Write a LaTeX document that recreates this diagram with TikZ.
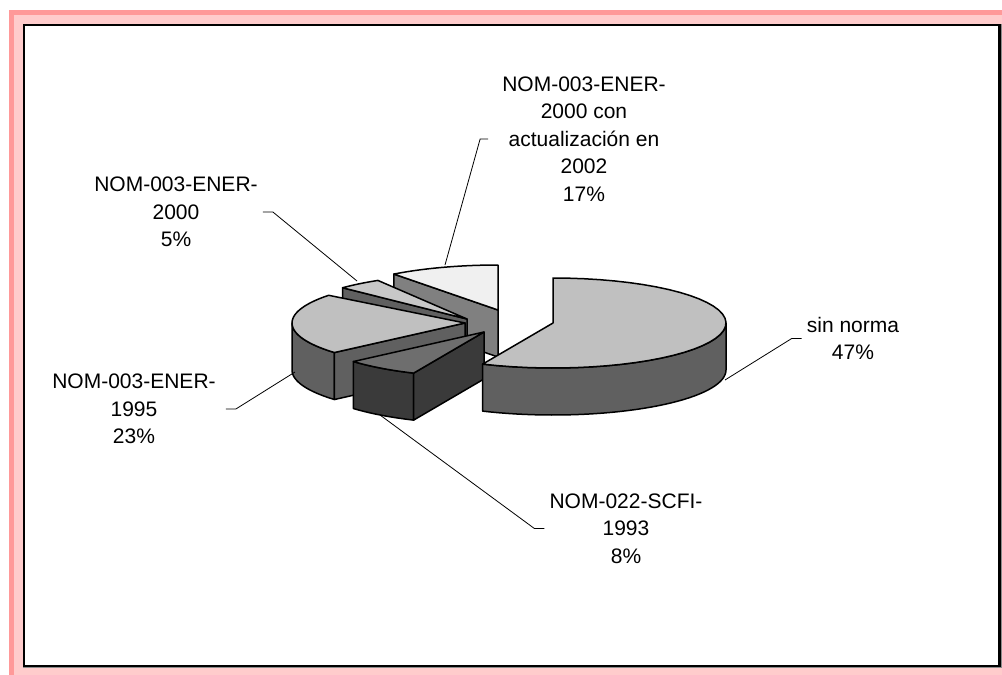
\documentclass[tikz,border=0pt]{standalone}
\usepackage{fontspec}
\setmainfont{Liberation Sans}
\usepackage{tikz}
\usetikzlibrary{calc, positioning}
\definecolor{framedark}{RGB}{255,153,153}
\definecolor{framelight}{RGB}{255,204,204}
\definecolor{piewhite}{RGB}{240,240,240}
\definecolor{pielight}{RGB}{192,192,192}
\definecolor{pielighter}{RGB}{200,200,200}
\definecolor{piemid}{RGB}{128,128,128}
\definecolor{piedark}{RGB}{96,96,96}
\definecolor{pietop}{RGB}{110,110,110}
\definecolor{pieblack}{RGB}{58,58,58}

\def\rx{173}\def\ry{45}\def\dep{47}
% top of a slice: apex x, apex y, from, to, colour
\newcommand\slicetop[5]{\filldraw[pieline, fill=#5] (#1,#2) -- plot[domain=#3:#4, samples=40] ({#1+\rx*cos(\x)},{#2-\ry*sin(\x)}) -- cycle;}
% outer wall of a slice
\newcommand\sliceside[5]{\filldraw[pieline, fill=#5] plot[domain=#3:#4, samples=40] ({#1+\rx*cos(\x)},{#2-\ry*sin(\x)}) -- plot[domain=#4:#3, samples=40] ({#1+\rx*cos(\x)},{#2+\dep-\ry*sin(\x)}) -- cycle;}
% cut face of a slice at one angle
\newcommand\sliceface[4]{\filldraw[pieline, fill=#4] (#1,#2) -- ({#1+\rx*cos(#3)},{#2-\ry*sin(#3)}) -- ++(0,\dep) -- (#1,{#2+\dep}) -- cycle;}

\begin{document}
\begin{tikzpicture}[x=1pt, y=-1pt,
    pieline/.style={draw=black, line width=1.5pt, line join=round},
    leader/.style={draw=black, line width=0.8pt},
    lbl/.style={align=center, inner sep=5pt, font=\fontsize{21}{27.5}\selectfont}]
  \useasboundingbox (0,0) rectangle (1002,675);
  % frame
  \fill[framedark] (9,10) rectangle (1002,675);
  \fill[framelight] (14,15) rectangle (1002,675);
  \draw[black!45, line width=3.5pt] (24.5,25.5) rectangle (1000,666.5);
  \filldraw[fill=white, draw=black, line width=2.5pt] (24,25) rectangle (999.7,666);

  % slices, back to front
  \sliceface{498}{310}{127}{piemid}
  \slicetop{498}{310}{90}{127}{piewhite}
  \sliceface{467}{319}{136}{piedark}
  \slicetop{467}{319}{121}{136}{pielighter}
  \sliceside{465}{323}{180}{221}{piedark}
  \sliceface{465}{323}{221}{piedark}
  \slicetop{465}{323}{142}{221}{pielight}
  \sliceside{484}{332}{-139}{-114}{pieblack}
  \sliceface{484}{332}{-114}{pieblack}
  \slicetop{484}{332}{-139}{-114}{pietop}
  \sliceside{553}{323}{-114}{0}{piedark}
  \slicetop{553}{323}{-114}{90}{pielight}

  % labels
  \node[lbl] (l1) at (584,139) {NOM-003-ENER-\\2000 con\\actualización en\\2002\\17\%};
  \node[lbl] (l2) at (176,212) {NOM-003-ENER-\\2000\\5\%};
  \node[lbl] (l3) at (134,409) {NOM-003-ENER-\\1995\\23\%};
  \node[lbl] (l4) at (626,528.5) {NOM-022-SCFI-\\1993\\8\%};
  \node[lbl] (l5) at (853,338.5) {sin norma\\47\%};

  \coordinate (s1) at (445,265);
  \coordinate (s2) at (357,281);
  \coordinate (s3) at (295,372);
  \coordinate (s4) at (380,415);
  \coordinate (s5) at (725,380);
  \draw[leader] (s1) -- ([xshift=-17pt]l1.west) -- ([xshift=-9pt]l1.west);
  \draw[leader] (s2) -- ([xshift=10pt]l2.east) -- (l2.east);
  \draw[leader] (s3) -- ([xshift=15pt]l3.east) -- ([xshift=5pt]l3.east);
  \draw[leader] (s4) -- ([xshift=-10pt]l4.west) -- (l4.west);
  \draw[leader] (s5) -- ([xshift=-10pt]l5.west) -- (l5.west);
\end{tikzpicture}
\end{document}
